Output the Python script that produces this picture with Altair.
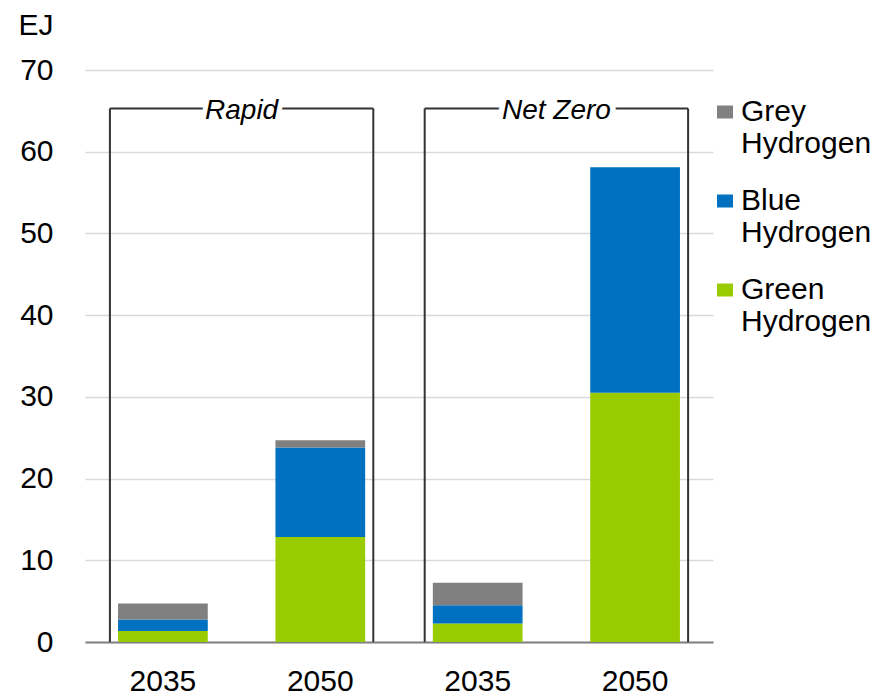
import altair as alt
import pandas as pd

# ---- data ----
scenarios = ["Rapid", "Rapid", "Net Zero", "Net Zero"]
years = ["2035", "2050", "2035", "2050"]
green = [1.35, 12.85, 2.25, 30.5]
blue = [1.40, 10.95, 2.25, 27.6]
grey = [1.95, 0.90, 2.75, 0.0]
series = ["Grey Hydrogen", "Blue Hydrogen", "Green Hydrogen"]
colors = ["#808080", "#0070C0", "#99CC00"]
bracket_names = ["Rapid", "Net Zero"]
bracket_top = [65.3, 65.3]

cats = [f"{s}|{y}" for s, y in zip(scenarios, years)]

rows = []
for c, g, b, gr in zip(cats, green, blue, grey):
    rows.append({"cat": c, "series": "Green Hydrogen", "value": g, "ord": 0})
    rows.append({"cat": c, "series": "Blue Hydrogen", "value": b, "ord": 1})
    rows.append({"cat": c, "series": "Grey Hydrogen", "value": gr, "ord": 2})
bars_df = pd.DataFrame(rows)

br_rows = []
for name, top in zip(bracket_names, bracket_top):
    members = [c for c, s in zip(cats, scenarios) if s == name]
    br_rows.append({"name": name, "halo": name.replace(" ", "-"), "c1": members[0],
                    "c2": members[-1], "top": top, "base": 0})
br_df = pd.DataFrame(br_rows)

FONT = "Liberation Sans"
xscale = alt.Scale(domain=cats, paddingInner=0.43, paddingOuter=0.21)
xaxis = alt.Axis(title=None, labelExpr="split(datum.label, '|')[1]", labelAngle=0,
                 ticks=False, domain=True, domainColor="#808080", domainWidth=2,
                 labelPadding=24, labelFontSize=30, labelFont=FONT, labelColor="#000000",
                 grid=False)
yscale = alt.Scale(domain=[0, 70], nice=False)
yaxis = alt.Axis(title="EJ", values=list(range(0, 71, 10)), ticks=False, domain=False,
                 grid=True, gridColor="#D9D9D9", gridWidth=1.5, labelPadding=32,
                 labelFontSize=30, labelFont=FONT, labelColor="#000000",
                 titleAngle=0, titleAlign="left", titleBaseline="alphabetic",
                 titleX=-67, titleY=-36, titleFontSize=30, titleFontWeight="normal",
                 titleFont=FONT, titleColor="#000000")

bars = alt.Chart(bars_df).mark_bar().encode(
    x=alt.X("cat:N", scale=xscale, axis=xaxis, sort=cats),
    y=alt.Y("sum(value):Q", scale=yscale, axis=yaxis, stack="zero"),
    color=alt.Color("series:N", scale=alt.Scale(domain=series, range=colors),
                    legend=alt.Legend(title=None, orient="none", legendX=625, legendY=27,
                                      labelExpr="split(datum.label, ' ')",
                                      labelFontSize=30, labelFont=FONT, labelColor="#000000",
                                      labelBaseline="middle", labelOffset=1,
                                      symbolType="M-1,-0.8125H1V0.8125H-1Z",
                                      symbolSize=256, symbolStrokeWidth=0,
                                      symbolOpacity=1, rowPadding=27, labelLimit=300)),
    order=alt.Order("ord:Q"),
)

br = alt.Chart(br_df)
left_v = br.mark_rule(xOffset=-53, color="#333333", strokeWidth=2).encode(
    x=alt.X("c1:N", scale=xscale, axis=xaxis), y=alt.Y("top:Q", scale=yscale), y2="base:Q")
right_v = br.mark_rule(xOffset=53, color="#333333", strokeWidth=2).encode(
    x=alt.X("c2:N", scale=xscale, axis=xaxis), y=alt.Y("top:Q", scale=yscale), y2="base:Q")
horiz = br.mark_rule(xOffset=-53, x2Offset=53, color="#333333", strokeWidth=2).encode(
    x=alt.X("c1:N", scale=xscale, axis=xaxis), x2="c2:N", y=alt.Y("top:Q", scale=yscale))
halo = br.mark_text(dx=78.7, dy=3, font=FONT, fontSize=28, fontStyle="italic",
                    stroke="white", strokeWidth=10, fill="white", baseline="middle").encode(
    x=alt.X("c1:N", scale=xscale, axis=xaxis), y=alt.Y("top:Q", scale=yscale), text="halo:N")
label = br.mark_text(dx=78.7, dy=3, font=FONT, fontSize=28, fontStyle="italic",
                     color="#000000", baseline="middle").encode(
    x=alt.X("c1:N", scale=xscale, axis=xaxis), y=alt.Y("top:Q", scale=yscale), text="name:N")

chart = alt.layer(bars, left_v, right_v, horiz, halo, label).properties(
    width=628, height=572,
    autosize=alt.AutoSizeParams(type="none"),
    padding={"left": 77, "top": 62, "right": 160, "bottom": 55},
).configure(style={"guide-label": {"lineHeight": 32}}).configure_view(stroke=None)

chart.save("out.html", embed_options={"renderer": "svg", "actions": False})
